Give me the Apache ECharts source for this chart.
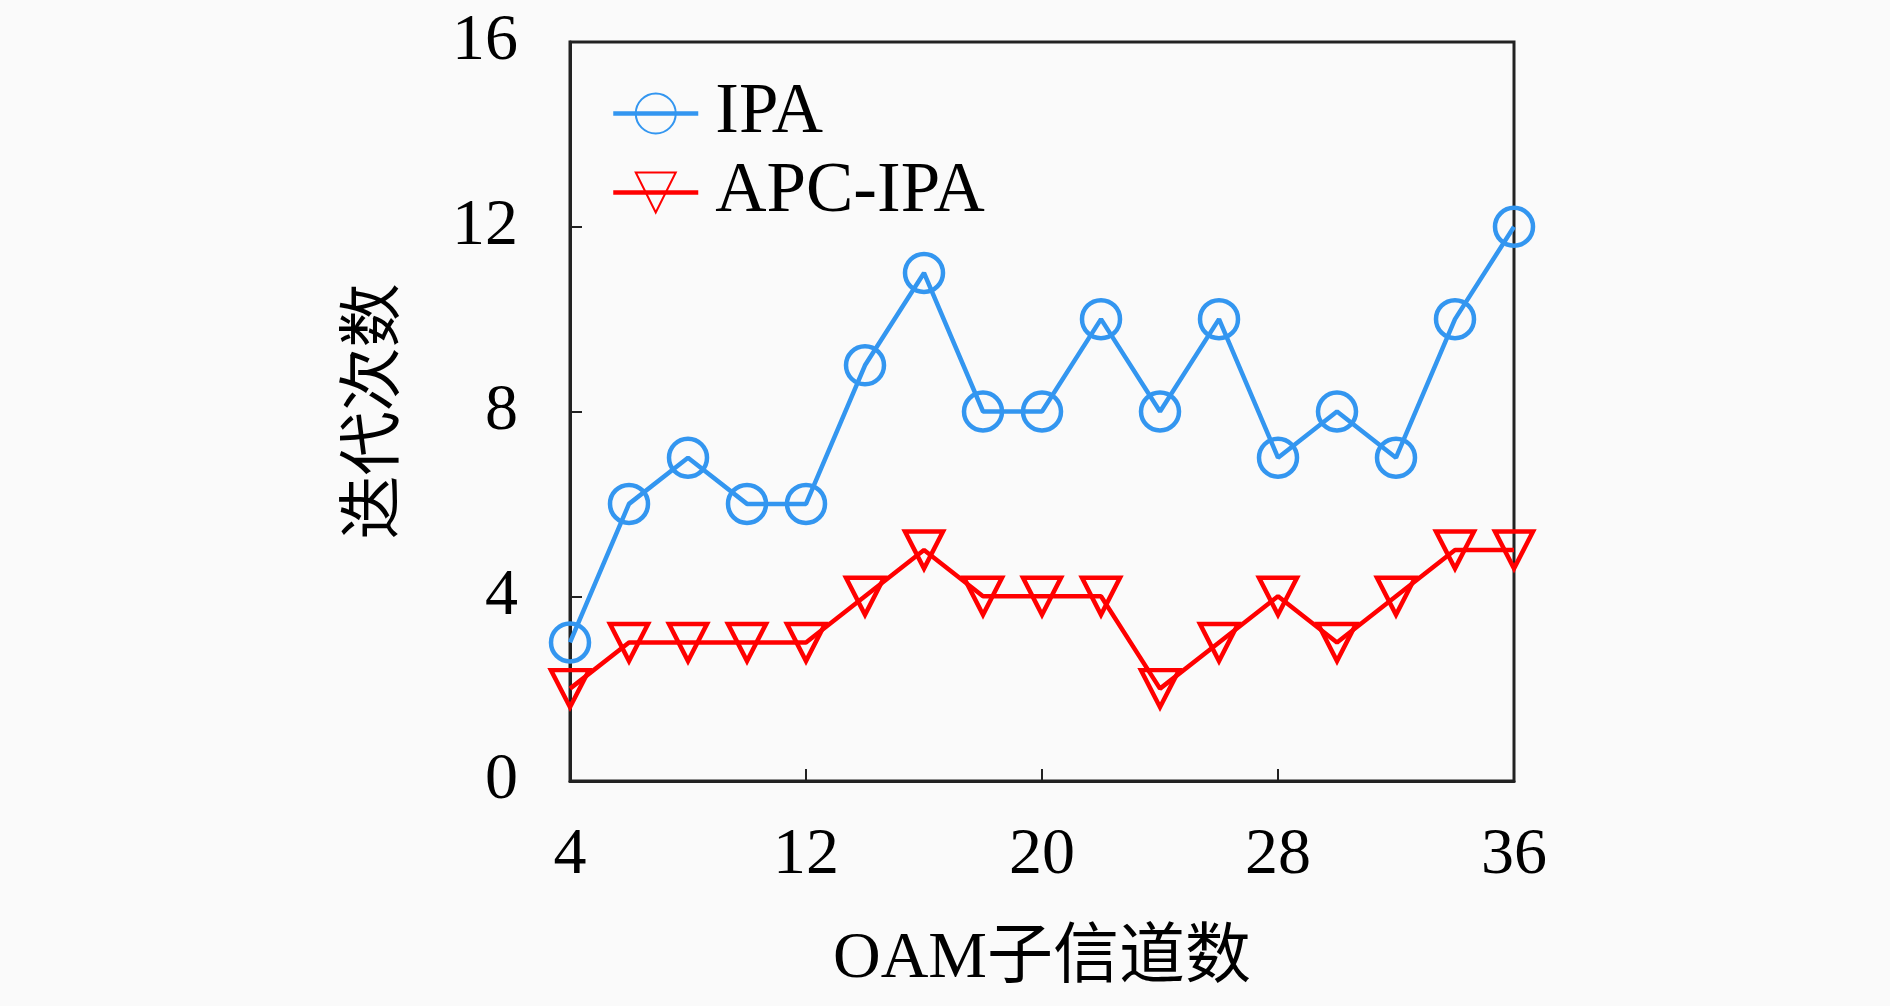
<!DOCTYPE html>
<html lang="zh">
<head>
  <meta charset="utf-8">
</head>
<body style="height: 100%; margin: 0; background-color: #fafafa">
  <div id="container" style="width: 1890px; height: 1006px"></div>

  <script type="text/javascript" src="https://cdn.jsdelivr.net/npm/echarts@6.0.0/dist/echarts.min.js"></script>
  <script type="text/javascript">
    // OAM 子信道数
    var channels = [4, 6, 8, 10, 12, 14, 16, 18, 20, 22, 24, 26, 28, 30, 32, 34, 36];
    // 迭代次数
    var ipa = [3, 6, 7, 6, 6, 9, 11, 8, 8, 10, 8, 10, 7, 8, 7, 10, 12];
    var apcIpa = [2, 3, 3, 3, 3, 4, 5, 4, 4, 4, 2, 3, 4, 3, 4, 5, 5];

    var serif = "'Liberation Serif', 'Noto Sans CJK SC', serif";
    var blue = '#3396f0';
    var red = '#ff0000';

    function pairs(xs, ys) {
      return xs.map(function (x, i) { return [x, ys[i]]; });
    }

    var myChart = echarts.init(document.getElementById('container'), null, { renderer: 'canvas' });

    var option = {
      backgroundColor: '#fafafa',
      animation: false,
      grid: {
        left: 570,
        right: 376,
        top: 42,
        bottom: 225,
        show: true,
        borderColor: '#222',
        borderWidth: 3,
        backgroundColor: 'transparent'
      },
      legend: {
        left: 606,
        top: 73,
        orient: 'vertical',
        itemWidth: 85,
        itemHeight: 50,
        itemGap: 8,
        lineStyle: { width: 4.5 },
        textStyle: {
          fontFamily: serif,
          fontSize: 71,
          color: '#000',
          padding: [0, 0, 0, 12]
        },
        data: ['IPA', 'APC-IPA']
      },
      xAxis: {
        type: 'value',
        min: 4,
        max: 36,
        interval: 8,
        name: 'OAM子信道数',
        nameLocation: 'middle',
        nameGap: 146,
        nameTextStyle: { fontFamily: serif, fontSize: 66, color: '#000' },
        axisLine: { lineStyle: { color: '#222', width: 3 } },
        axisTick: { inside: true, length: 12, lineStyle: { color: '#222', width: 2 } },
        axisLabel: { fontFamily: serif, fontSize: 66, color: '#000', margin: 42 },
        splitLine: { show: false }
      },
      yAxis: {
        type: 'value',
        min: 0,
        max: 16,
        interval: 4,
        name: '迭代次数',
        nameLocation: 'middle',
        nameRotate: 90,
        nameGap: 162,
        nameTextStyle: { fontFamily: serif, fontSize: 64, color: '#000' },
        axisLine: { lineStyle: { color: '#222', width: 3 } },
        axisTick: { inside: true, length: 12, lineStyle: { color: '#222', width: 2 } },
        axisLabel: { fontFamily: serif, fontSize: 66, color: '#000', margin: 52 },
        splitLine: { show: false }
      },
      series: [
        {
          name: 'IPA',
          type: 'line',
          data: pairs(channels, ipa),
          symbol: 'circle',
          symbolSize: 38,
          showAllSymbol: true,
          lineStyle: { color: blue, width: 4.5 },
          itemStyle: { color: 'rgba(0,0,0,0)', borderColor: blue, borderWidth: 4.5 }
        },
        {
          name: 'APC-IPA',
          type: 'line',
          data: pairs(channels, apcIpa),
          symbol: 'path://M0,0L10,0L5,10Z',
          symbolSize: [38, 37],
          showAllSymbol: true,
          lineStyle: { color: red, width: 4.5 },
          itemStyle: { color: 'rgba(0,0,0,0)', borderColor: red, borderWidth: 4.5 }
        }
      ]
    };

    myChart.setOption(option);
    window.addEventListener('resize', myChart.resize);
  </script>
</body>
</html>
